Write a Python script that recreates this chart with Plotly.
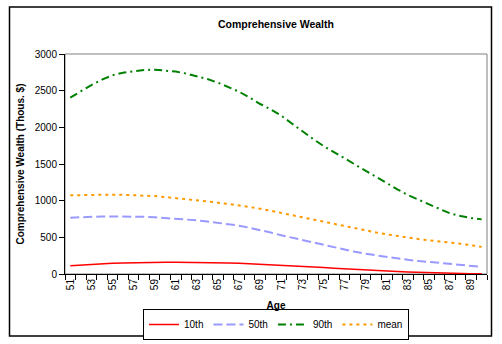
import plotly.graph_objects as go

ages = list(range(51, 91))

p10 = [114, 124, 132, 139, 145, 150, 155, 157, 159, 160,
       160, 160, 159, 157, 155, 150, 145, 139, 132, 125,
       118, 112, 105, 96, 87, 78, 69, 62, 55, 48,
       41, 34, 27, 22, 18, 13, 9, 6, 4, 2]

p50 = [768, 776, 782, 784, 785, 785, 783, 779, 773, 765,
       755, 744, 732, 717, 700, 680, 659, 630, 600, 565,
       528, 495, 464, 430, 397, 364, 332, 302, 275, 252,
       231, 211, 193, 178, 164, 152, 140, 128, 115, 98]

p90 = [2405, 2495, 2577, 2650, 2710, 2745, 2768, 2782, 2786, 2778,
       2760, 2733, 2700, 2658, 2609, 2550, 2486, 2405, 2318, 2245,
       2160, 2052, 1941, 1842, 1746, 1660, 1578, 1493, 1409, 1322,
       1237, 1155, 1077, 1010, 950, 887, 827, 790, 765, 745]

mean = [1073, 1077, 1080, 1082, 1082, 1080, 1076, 1070, 1062, 1050,
        1036, 1022, 1007, 990, 973, 955, 936, 914, 891, 862,
        832, 800, 770, 742, 714, 682, 651, 620, 592, 566,
        541, 517, 495, 477, 459, 445, 431, 412, 392, 370]

x_labels = [str(a) for a in range(51, 91, 2)]
y_ticks = [0, 500, 1000, 1500, 2000, 2500, 3000]

FONT = "Arial, Liberation Sans, sans-serif"

fig = go.Figure()
fig.add_trace(go.Scatter(x=ages, y=p10, name="10th", mode="lines",
                         line=dict(color="#FF0000", width=1.5)))
fig.add_trace(go.Scatter(x=ages, y=p50, name="50th", mode="lines",
                         line=dict(color="#9999FF", width=2, dash="9px,4px")))
fig.add_trace(go.Scatter(x=ages, y=p90, name="90th", mode="lines",
                         line=dict(color="#008000", width=2, dash="8px,4px,2px,4px")))
fig.add_trace(go.Scatter(x=ages, y=mean, name="mean", mode="lines",
                         line=dict(color="#FF9900", width=2, dash="3px,4px")))

L, R, T, B = 65, 15, 54, 70
W, H = 502, 344
pw, ph = W - L - R, H - T - B

def px(x):
    return (x - L) / pw

def py(y):
    return (H - B - y) / ph

fig.add_shape(type="rect", xref="paper", yref="paper", x0=0, x1=1, y0=0, y1=1,
              line=dict(color="#808080", width=1), layer="below")
fig.add_shape(type="rect", xref="paper", yref="paper",
              x0=px(9.5), x1=px(491.5), y0=py(7), y1=py(336),
              line=dict(color="#000000", width=1.5))

fig.update_layout(
    width=W, height=H,
    margin=dict(l=L, r=R, t=T, b=B, autoexpand=False),
    paper_bgcolor="white", plot_bgcolor="white",
    font=dict(family=FONT, size=10, color="#000000"),
    title=dict(text="Comprehensive Wealth", x=0.5, xref="paper", xanchor="center",
               y=1 - 24 / H, yanchor="middle",
               font=dict(family=FONT, size=10.5, weight="bold")),
    showlegend=True,
    legend=dict(orientation="h", x=0.5, xanchor="center", y=py(340), yanchor="bottom",
                bordercolor="#000000", borderwidth=1, bgcolor="white",
                font=dict(family=FONT, size=10),
                tracegroupgap=0, itemwidth=30),
    xaxis=dict(range=[50.5, 90.5], tickvals=[int(v) for v in x_labels], ticktext=x_labels,
               tickangle=-90, ticks="", ticklen=0, showgrid=False, zeroline=False,
               showline=True, linecolor="#000000", linewidth=1, automargin=False,
               tickfont=dict(family=FONT, size=10),
               minor=dict(tick0=50.5, dtick=1, ticks="outside", ticklen=5,
                          tickcolor="#000000", showgrid=False),
               title=dict(text="Age", standoff=12,
                          font=dict(family=FONT, size=10, weight="bold"))),
    yaxis=dict(range=[0, 3000], tickvals=y_ticks, ticks="outside", ticklen=5,
               tickcolor="#000000", showgrid=False, zeroline=False,
               showline=True, linecolor="#000000", linewidth=1, automargin=False,
               tickfont=dict(family=FONT, size=10),
               title=dict(text="Comprehensive Wealth (Thous. $)", standoff=8,
                          font=dict(family=FONT, size=10, weight="bold"))),
)

fig.write_html("out.html")
